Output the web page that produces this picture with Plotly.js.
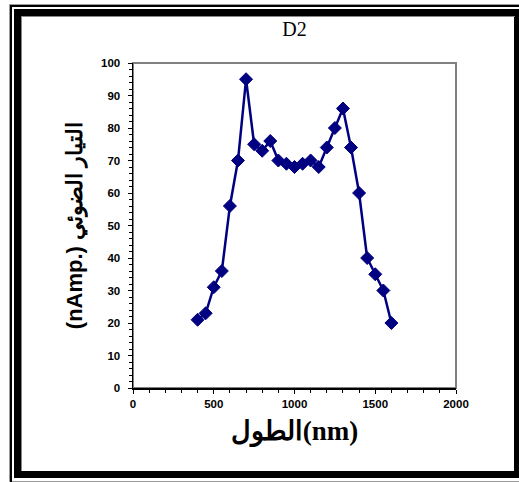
<!DOCTYPE html>
<html>
<head>
<meta charset="utf-8">
<script src="https://cdn.plot.ly/plotly-3.0.1.min.js"></script>
<style>
html,body{margin:0;padding:0;background:#fff;}
#chart{width:519px;height:482px;}
</style>
</head>
<body>
<div id="chart"></div>
<script>
const lengthNm = [400,450,500,550,600,650,700,750,800,850,900,950,1000,1050,1100,1150,1200,1250,1300,1350,1400,1450,1500,1550,1600];
const currentNAmp = [21,23,31,36,56,70,95,75,73,76,70,69,68,69,70,68,74,80,86,74,60,40,35,30,20];
const chartTitle = 'D2';
const xTitle = '\u200Eالطول(nm)';
const yTitle = '(nAmp.) التيار الضوئي';
const xTickVals = [0,500,1000,1500,2000];
const yTickVals = [0,10,20,30,40,50,60,70,80,90,100];

const L = 133, R = 456, T = 63, B = 388, W = 519, H = 482;
const px = v => (v - L) / (R - L);
const py = v => (B - v) / (B - T);

const shapes = [
  {type:'rect', xref:'paper', yref:'paper', x0:px(9.5), x1:px(540), y0:py(4.5), y1:py(481.5), line:{color:'#9a9a9a', width:1}},
  {type:'rect', xref:'paper', yref:'paper', x0:px(11), x1:px(540), y0:py(6), y1:py(500), line:{color:'#000', width:2}},
  {type:'rect', xref:'paper', yref:'paper', x0:px(17.5), x1:px(517.5), y0:py(12.5), y1:py(474.5), line:{color:'#000', width:7}},
  {type:'line', xref:'paper', yref:'paper', x0:px(21.5), x1:px(21.5), y0:py(16), y1:py(471), line:{color:'#888', width:1}},
  {type:'line', xref:'paper', yref:'paper', x0:px(21), x1:px(515), y0:py(16.5), y1:py(16.5), line:{color:'#888', width:1}},
  {type:'rect', xref:'paper', yref:'paper', x0:0, x1:1, y0:0, y1:1, layer:'below', line:{color:'#808080', width:2}}
];

const trace = {
  x: lengthNm, y: currentNAmp, type:'scatter', mode:'lines+markers',
  line:{color:'#000080', width:2.5},
  marker:{symbol:'diamond', size:10, color:'#000080', line:{color:'#000080', width:1}},
  cliponaxis:false, hoverinfo:'skip'
};

const tickFont = {family:'Liberation Sans, Arial, sans-serif', size:11.5, color:'#000', weight:'bold'};

const layout = {
  width:W, height:H,
  margin:{l:L, r:W-R, t:T, b:H-B},
  paper_bgcolor:'#fff', plot_bgcolor:'#fff',
  showlegend:false,
  title:{text:chartTitle, x:0.5, xref:'paper', xanchor:'center', y:1-29/H, yref:'container', yanchor:'middle',
         font:{family:'Liberation Serif, Times New Roman, serif', size:20, color:'#000'}},
  xaxis:{
    range:[0,2000], tickvals:xTickVals, ticktext:xTickVals.map(String), ticks:'outside', ticklen:4, tickwidth:1, tickcolor:'#000',
    minor:{dtick:100, ticks:'outside', ticklen:3, tickwidth:1, tickcolor:'#000'},
    showline:true, linecolor:'#000', linewidth:1.5, showgrid:false, zeroline:false,
    tickfont:tickFont, ticklabelstandoff:1,
    title:{text:xTitle, standoff:12, font:{family:'Liberation Serif, Times New Roman, serif', size:27, color:'#000', weight:'bold'}}
  },
  yaxis:{
    range:[0,100], tickvals:yTickVals, ticktext:yTickVals.map(String), ticks:'outside', ticklen:4, tickwidth:1, tickcolor:'#000',
    minor:{dtick:2, ticks:'outside', ticklen:3, tickwidth:1, tickcolor:'#000'},
    showline:true, linecolor:'#000', linewidth:1.5, showgrid:false, zeroline:false,
    tickfont:tickFont, ticklabelstandoff:5,
    title:{text:yTitle, standoff:12, font:{family:'Liberation Sans, Arial, sans-serif', size:22, color:'#000', weight:'bold'}}
  },
  shapes:shapes
};

Plotly.newPlot('chart', [trace], layout, {displayModeBar:false, staticPlot:true});
</script>
</body>
</html>
